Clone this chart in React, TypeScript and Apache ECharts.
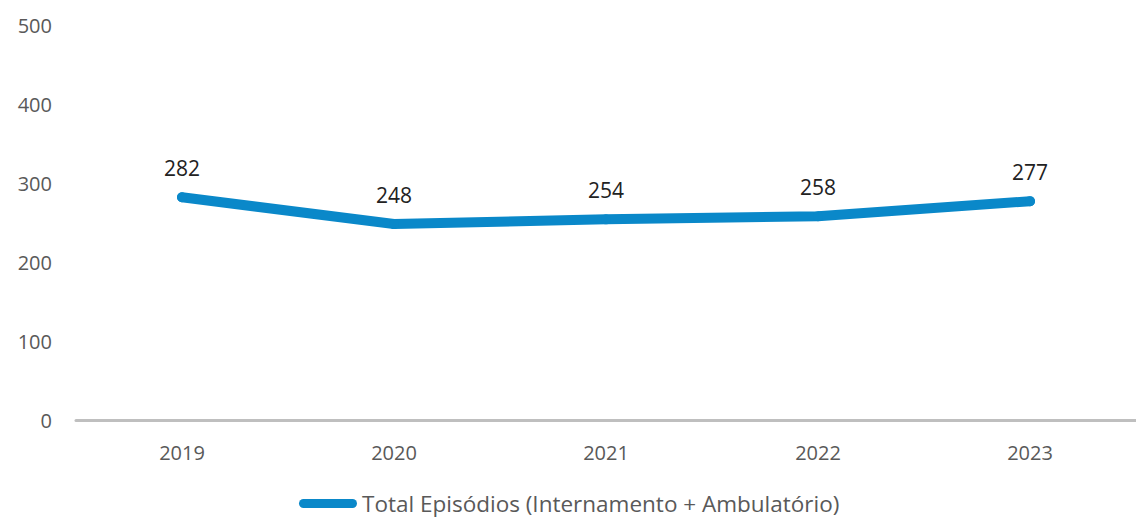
import React, { useEffect, useRef } from "react";
import * as echarts from "echarts";

const categories = ["2019", "2020", "2021", "2022", "2023"];
const values = [282, 248, 254, 258, 277];
const seriesName = "Total Episódios (Internamento + Ambulatório)";

const FONT = "'Open Sans', Lato, sans-serif";

export default function App() {
  const ref = useRef<HTMLDivElement>(null);
  useEffect(() => {
    document.body.style.margin = "0";
    const chart = echarts.init(ref.current!, null, { renderer: "svg" });
    chart.setOption({
      animation: false,
      grid: { left: 76, right: -7, top: 25, bottom: 101, containLabel: false },
      legend: {
        left: 299,
        top: 492,
        itemWidth: 58,
        itemHeight: 9,
        padding: 0,
        icon: "path://M4.5,0 H53.5 A4.5,4.5 0 0 1 53.5,9 H4.5 A4.5,4.5 0 0 1 4.5,0 Z",
        textStyle: {
          fontFamily: FONT,
          fontSize: 22.5,
          lineHeight: 23,
          color: "#595959",
          padding: [0, 0, 0, 0],
        },
        data: [seriesName],
      },
      xAxis: {
        type: "category",
        data: categories,
        boundaryGap: true,
        axisLine: { lineStyle: { color: "#bfbfbf", width: 3 } },
        axisTick: { show: false },
        axisLabel: { fontFamily: FONT, fontSize: 20, color: "#595959", margin: 22 },
      },
      yAxis: {
        type: "value",
        min: 0,
        max: 500,
        interval: 100,
        splitLine: { show: false },
        axisLine: { show: false },
        axisTick: { show: false },
        axisLabel: { fontFamily: FONT, fontSize: 20, color: "#595959", margin: 24 },
      },
      series: [
        {
          name: seriesName,
          type: "line",
          data: values,
          showSymbol: true,
          symbol: "circle",
          symbolSize: 10,
          lineStyle: { color: "#0a88c9", width: 10, cap: "round", join: "round" },
          itemStyle: { color: "#0a88c9", borderWidth: 0 },
          label: {
            show: true,
            position: "top",
            distance: 14,
            fontFamily: FONT,
            fontSize: 21,
            color: "#222222",
          },
        },
      ],
    });
    return () => chart.dispose();
  }, []);
  return <div ref={ref} style={{ width: 1136, height: 521 }} />;
}
